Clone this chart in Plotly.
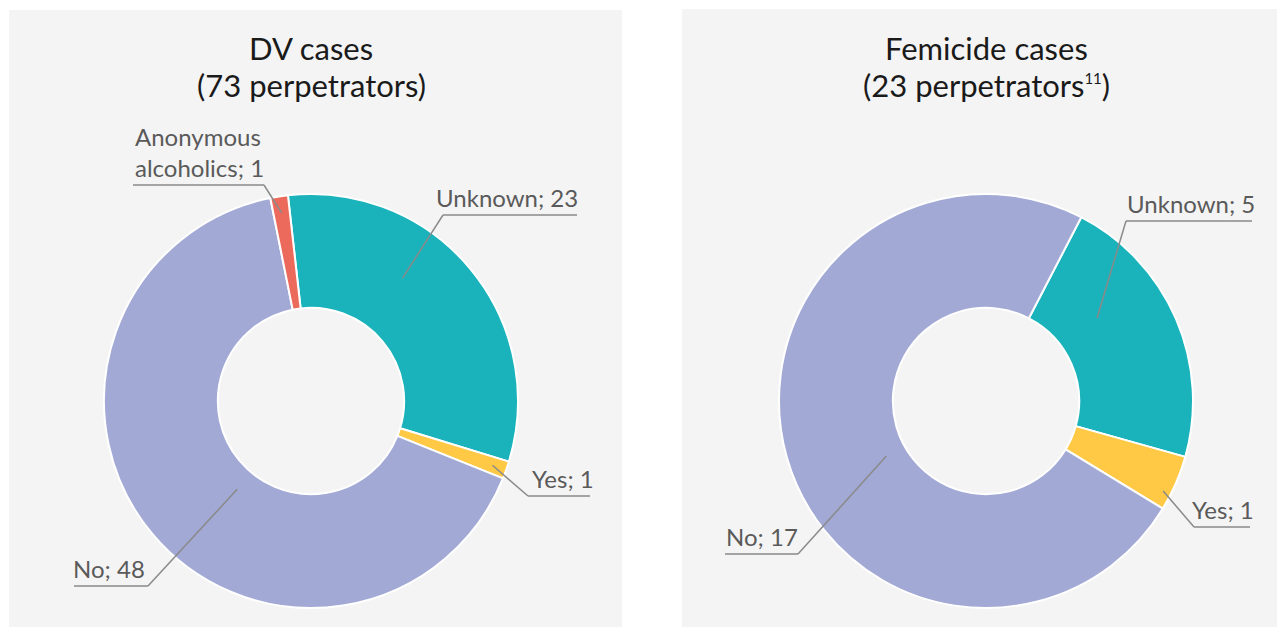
import math
import plotly.graph_objects as go

# page body adds an 8px margin; figure is sized to fit the window
OFF = 8
W, H = 1285 - OFF, 627 - OFF

# ---- data ----
dv_labels = ["Unknown", "Yes", "No", "Anonymous alcoholics"]
dv_values = [23, 1, 48, 1]
fem_labels = ["Unknown", "Yes", "No"]
fem_values = [5, 1, 17]
colors = {"Unknown": "#1bb3bb", "Yes": "#ffc845", "No": "#a2a9d5",
          "Anonymous alcoholics": "#ec6a5c"}
title_lines = [["DV cases", "(73 perpetrators)"],
               ["Femicide cases",
                "(23 perpetrators<sup><span style='font-size:15px'>11</span></sup>)"]]
label_text = {"Anonymous alcoholics": "Anonymous<br>alcoholics"}

# ---- layout (page pixels) ----
panels = [(9, 10, 622, 640), (682, 9, 1290, 640)]
pies = [dict(cx=311, cy=401, r=207, rot=-6.4),
        dict(cx=986, cy=401, r=207, rot=27.4)]
title_baselines = [60, 97]
# per-label: anchor (fraction in slice, radius fraction), underline (x0, x1, y), connect side, text left x
label_specs = [
    {"Unknown": ((0.38, 0.74), (443, 577, 215), "left", 437),
     "Yes": ((0.5, 0.93), (528, 590, 496), "left", 533),
     "No": ((0.456, 0.556), (74, 148, 586), "right", 74),
     "Anonymous alcoholics": ((0.5, 0.92), (133, 264, 185), "right", 136)},
    {"Unknown": ((0.33, 0.67), (1126, 1252, 221), "left", 1128),
     "Yes": ((0.72, 0.96), (1194, 1250, 527), "left", 1193),
     "No": ((0.45, 0.55), (725, 798, 554), "right", 727)},
]


def px(x):
    return (x - OFF) / W


def py(y):
    return 1 - (y - OFF) / H


fig = go.Figure()
shapes = []
annotations = []

for (x0, y0, x1, y1) in panels:
    shapes.append(dict(type="rect", xref="paper", yref="paper",
                       x0=px(x0), x1=px(x1), y0=py(y1), y1=py(y0),
                       fillcolor="#f4f4f4", line=dict(width=0), layer="below"))

for i, (labels, values) in enumerate([(dv_labels, dv_values), (fem_labels, fem_values)]):
    p = pies[i]
    fig.add_trace(go.Pie(
        labels=labels, values=values, hole=0.45, sort=False,
        direction="clockwise", rotation=p["rot"], textinfo="none",
        marker=dict(colors=[colors[l] for l in labels], line=dict(color="white", width=2)),
        domain=dict(x=[px(p["cx"] - p["r"]), px(p["cx"] + p["r"])],
                    y=[py(p["cy"] + p["r"]), py(p["cy"] - p["r"])]),
        showlegend=False, hoverinfo="label+value"))

    total = sum(values)
    start = p["rot"]
    for lab, val in zip(labels, values):
        span = val / total * 360
        (frac, rf), (ux0, ux1, uy), side, tx = label_specs[i][lab]
        ang = math.radians(start + frac * span)
        ax = p["cx"] + rf * p["r"] * math.sin(ang)
        ay = p["cy"] - rf * p["r"] * math.cos(ang)
        cxp = ux0 if side == "left" else ux1
        shapes.append(dict(type="line", xref="paper", yref="paper",
                           x0=px(ax), y0=py(ay), x1=px(cxp), y1=py(uy),
                           line=dict(color="#8a8a8a", width=1.5)))
        shapes.append(dict(type="line", xref="paper", yref="paper",
                           x0=px(ux0), y0=py(uy), x1=px(ux1), y1=py(uy),
                           line=dict(color="#8a8a8a", width=1.5)))
        annotations.append(dict(
            xref="paper", yref="paper", x=px(tx - 3), y=py(uy - 1),
            xanchor="left", yanchor="bottom", align="left", showarrow=False,
            text=f"{label_text.get(lab, lab)}; {val}",
            font=dict(family="Lato", size=24, color="#5a5a5a")))
        start += span

    for line, base in zip(title_lines[i], title_baselines):
        annotations.append(dict(
            xref="paper", yref="paper", x=px(p["cx"]), y=py(base + 9),
            xanchor="center", yanchor="bottom", align="center", showarrow=False,
            text=line, font=dict(family="Lato", size=31, color="#1a1a1a")))

fig.update_layout(width=W, height=H, autosize=False,
                  margin=dict(l=0, r=0, t=0, b=0),
                  paper_bgcolor="white", plot_bgcolor="white",
                  shapes=shapes, annotations=annotations)

fig.write_html("out.html")
